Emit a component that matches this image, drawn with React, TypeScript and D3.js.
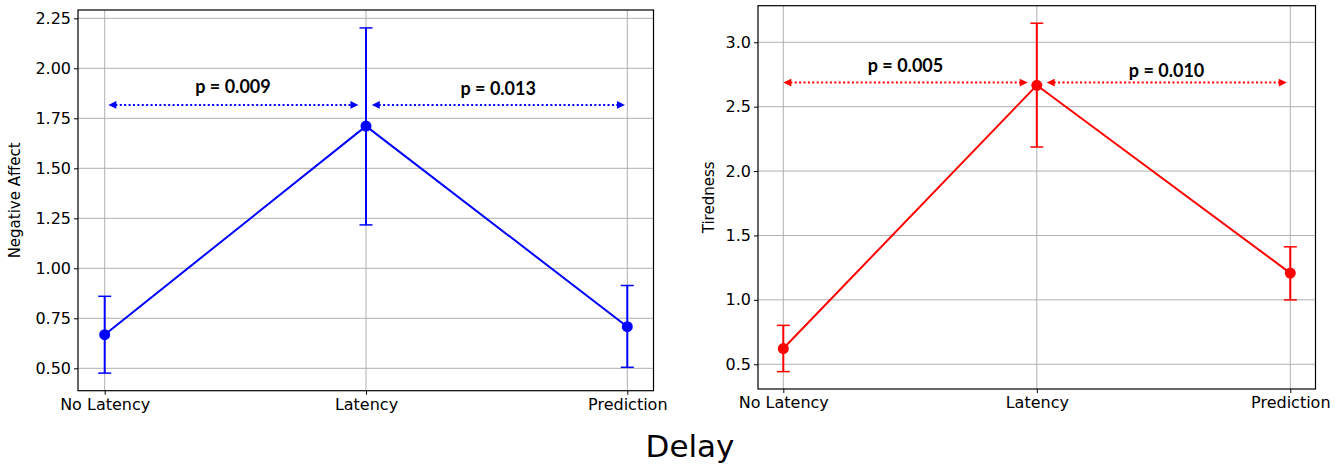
import React, { useEffect, useRef } from 'react';
import * as d3 from 'd3';

// conditions on the x axis (same for both panels)
const categories = ['No Latency', 'Latency', 'Prediction'];

// left panel: negative affect, means with error bar limits
const affectMean = [0.668, 1.711, 0.708];
const affectLow = [0.476, 1.217, 0.505];
const affectHigh = [0.86, 2.202, 0.914];
const affectTicks = [0.5, 0.75, 1.0, 1.25, 1.5, 1.75, 2.0, 2.25];

// right panel: tiredness
const tiredMean = [0.622, 2.666, 1.208];
const tiredLow = [0.443, 2.187, 1.0];
const tiredHigh = [0.802, 3.148, 1.412];
const tiredTicks = [0.5, 1.0, 1.5, 2.0, 2.5, 3.0];

// significance annotations: [from index, to index, arrow value, label index, label value, label]
const affectNotes = [
  { from: 0.014, to: 0.971, y: 1.817, tx: 0.491, ty: 1.875, label: 'p = 0.009' },
  { from: 1.022, to: 1.991, y: 1.817, tx: 1.506, ty: 1.867, label: 'p = 0.013' },
];
const tiredNotes = [
  { from: 0.0, to: 0.964, y: 2.687, tx: 0.482, ty: 2.772, label: 'p = 0.005' },
  { from: 1.039, to: 1.986, y: 2.687, tx: 1.512, ty: 2.733, label: 'p = 0.010' },
];

const W = 1338;
const H = 466;

function drawPanel(svg, opts) {
  const { left, right, top, bottom, catFirst, catLast, yDomain, ticks, fmt,
    mean, low, high, notes, color, yLabel, yLabelX } = opts;

  const x = d3.scalePoint().domain(categories).range([catFirst, catLast]);
  const xi = d3.scaleLinear().domain([0, categories.length - 1]).range([catFirst, catLast]);
  const y = d3.scaleLinear().domain(yDomain).range([bottom, top]);

  const g = svg.append('g');

  // grid
  g.selectAll('.hgrid').data(ticks).enter().append('line')
    .attr('x1', left).attr('x2', right)
    .attr('y1', d => y(d)).attr('y2', d => y(d))
    .attr('stroke', '#b0b0b0').attr('stroke-width', 1);
  g.selectAll('.vgrid').data(categories).enter().append('line')
    .attr('x1', d => x(d)).attr('x2', d => x(d))
    .attr('y1', top).attr('y2', bottom)
    .attr('stroke', '#b0b0b0').attr('stroke-width', 1);

  // axes
  const yAxis = d3.axisLeft(y).tickValues(ticks).tickFormat(d3.format(fmt)).tickSize(4).tickPadding(3);
  const ya = g.append('g').attr('transform', 'translate(' + left + ',0)').call(yAxis);
  ya.select('.domain').remove();
  ya.attr('font-family', null).attr('font-size', null);
  ya.selectAll('text').style('font-family', '"DejaVu Sans"').style('font-size', '16px').attr('fill', '#000');
  ya.selectAll('line').attr('stroke', '#000');

  const xAxis = d3.axisBottom(x).tickSize(4).tickPadding(4);
  const xa = g.append('g').attr('transform', 'translate(0,' + bottom + ')').call(xAxis);
  xa.select('.domain').remove();
  xa.attr('font-family', null).attr('font-size', null);
  xa.selectAll('text').style('font-family', '"DejaVu Sans"').style('font-size', '16px').attr('fill', '#000');
  xa.selectAll('line').attr('stroke', '#000');

  // frame
  g.append('rect')
    .attr('x', left).attr('y', top)
    .attr('width', right - left).attr('height', bottom - top)
    .attr('fill', 'none').attr('stroke', '#000').attr('stroke-width', 1.2);

  // line through means
  const line = d3.line().x((d, i) => x(categories[i])).y(d => y(d));
  g.append('path').datum(mean)
    .attr('d', line).attr('fill', 'none')
    .attr('stroke', color).attr('stroke-width', 2);

  // error bars
  categories.forEach((c, i) => {
    const cx = x(c);
    g.append('line').attr('x1', cx).attr('x2', cx)
      .attr('y1', y(low[i])).attr('y2', y(high[i]))
      .attr('stroke', color).attr('stroke-width', 2);
    [low[i], high[i]].forEach(v => {
      g.append('line').attr('x1', cx - 6.5).attr('x2', cx + 6.5)
        .attr('y1', y(v)).attr('y2', y(v))
        .attr('stroke', color).attr('stroke-width', 1.5);
    });
  });

  g.selectAll('.pt').data(mean).enter().append('circle')
    .attr('cx', (d, i) => x(categories[i]))
    .attr('cy', d => y(d))
    .attr('r', 5.5)
    .attr('fill', color);

  // significance arrows
  notes.forEach(n => {
    const x1 = xi(n.from);
    const x2 = xi(n.to);
    const yy = y(n.y);
    const head = 8;
    const hw = 3.8;
    g.append('line')
      .attr('x1', x1 + head - 1).attr('x2', x2 - head + 1)
      .attr('y1', yy).attr('y2', yy)
      .attr('stroke', color).attr('stroke-width', 2)
      .attr('stroke-dasharray', '2,2.4');
    g.append('path')
      .attr('d', 'M' + x1 + ',' + yy + 'L' + (x1 + head) + ',' + (yy - hw) + 'L' + (x1 + head) + ',' + (yy + hw) + 'Z')
      .attr('fill', color);
    g.append('path')
      .attr('d', 'M' + x2 + ',' + yy + 'L' + (x2 - head) + ',' + (yy - hw) + 'L' + (x2 - head) + ',' + (yy + hw) + 'Z')
      .attr('fill', color);
    g.append('text')
      .attr('x', xi(n.tx)).attr('y', y(n.ty))
      .attr('text-anchor', 'middle')
      .style('font-family', 'Lato')
      .style('font-weight', 'bold')
      .style('font-size', '18px')
      .attr('fill', '#000')
      .text(n.label);
  });

  // y label
  g.append('text')
    .attr('transform', 'translate(' + yLabelX + ',' + ((top + bottom) / 2) + ') rotate(-90)')
    .attr('text-anchor', 'middle')
    .style('font-family', '"DejaVu Sans"')
    .style('font-size', '15px')
    .attr('fill', '#000')
    .text(yLabel);
}

export default function App() {
  const ref = useRef(null);

  useEffect(() => {
    const svg = d3.select(ref.current);
    svg.selectAll('*').remove();

    drawPanel(svg, {
      left: 78, right: 653.5, top: 10, bottom: 390.7,
      catFirst: 104.7, catLast: 627.3,
      yDomain: [0.388, 2.2915], ticks: affectTicks, fmt: '.2f',
      mean: affectMean, low: affectLow, high: affectHigh,
      notes: affectNotes, color: '#0000ff',
      yLabel: 'Negative Affect', yLabelX: 20,
    });

    drawPanel(svg, {
      left: 758, right: 1315.5, top: 5.7, bottom: 389,
      catFirst: 783.3, catLast: 1290.3,
      yDomain: [0.308, 3.284], ticks: tiredTicks, fmt: '.1f',
      mean: tiredMean, low: tiredLow, high: tiredHigh,
      notes: tiredNotes, color: '#ff0000',
      yLabel: 'Tiredness', yLabelX: 714,
    });

    svg.append('text')
      .attr('x', 690).attr('y', 457)
      .attr('text-anchor', 'middle')
      .style('font-family', '"DejaVu Sans"')
      .style('font-size', '31px')
      .attr('fill', '#000')
      .text('Delay');
  }, []);

  return (
    <svg ref={ref} width={W} height={H}
      style={{ position: 'absolute', left: 0, top: 0, background: '#fff' }} />
  );
}
